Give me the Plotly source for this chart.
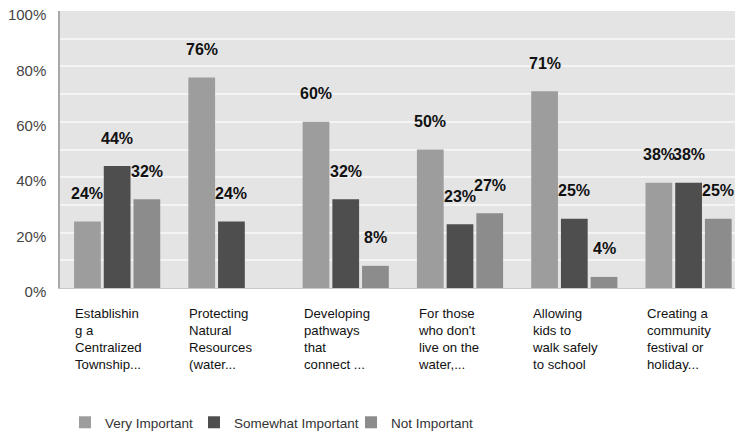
import plotly.graph_objects as go

categories = [
    "Establishin<br>g a<br>Centralized<br>Township...",
    "Protecting<br>Natural<br>Resources<br>(water...",
    "Developing<br>pathways<br>that<br>connect ...",
    "For those<br>who don't<br>live on the<br>water,...",
    "Allowing<br>kids to<br>walk safely<br>to school",
    "Creating a<br>community<br>festival or<br>holiday...",
]
series_names = ["Very Important", "Somewhat Important", "Not Important"]
very_important = [24, 76, 60, 50, 71, 38]
somewhat_important = [44, 24, 32, 23, 25, 38]
not_important = [32, None, 8, 27, 4, 25]
y_ticks = [0, 20, 40, 60, 80, 100]
y_tick_labels = ["0%", "20%", "40%", "60%", "80%", "100%"]

colors = ["#9d9d9d", "#4e4e4e", "#8c8c8c"]
series_values = [very_important, somewhat_important, not_important]
legend_ids = ["legend", "legend2", "legend3"]
legend_text_x = [101, 230, 387]

FONT = "Arial, Liberation Sans, sans-serif"

fig = go.Figure()
for name, vals, col, lg in zip(series_names, series_values, colors, legend_ids):
    fig.add_trace(go.Bar(
        x=categories, y=vals, name=name, legend=lg,
        marker=dict(color=col, line=dict(width=0)),
        hoverinfo="skip",
    ))

W, H = 735, 436
ml, mt, mb = 60, 11, 148
x_range = [-0.5, 5.406]
plot_w = W - ml
cat_px = plot_w / (x_range[1] - x_range[0])
bargap = 0.22
slot = cat_px * (1 - bargap) / 3
offsets = [-slot, 0, slot]

annotations = []
for vals, off in zip(series_values, offsets):
    for c, v in zip(categories, vals):
        if v is None:
            continue
        annotations.append(dict(
            x=c, y=v, xref="x", yref="y", text=f"<b>{v}%</b>",
            showarrow=False, xshift=off, yshift=28, yanchor="middle",
            font=dict(family=FONT, size=16, color="#111111"),
        ))
for c in categories:
    annotations.append(dict(
        x=c, y=0, xref="x", yref="paper", text=c, showarrow=False,
        xanchor="left", yanchor="top", align="left", xshift=-44, yshift=-16,
        font=dict(family=FONT, size=13.2, color="#111111"),
    ))

legend_common = dict(
    orientation="h", xref="container", yref="container",
    xanchor="left", yanchor="top", y=1 - 407 / H,
    font=dict(family=FONT, size=13.5, color="#333333"),
    bgcolor="rgba(0,0,0,0)",
)

fig.update_layout(
    width=W, height=H,
    margin=dict(l=ml, r=0, t=mt, b=mb, pad=0, autoexpand=False),
    paper_bgcolor="white",
    plot_bgcolor="#e4e4e4",
    barmode="group", bargap=bargap, bargroupgap=0.1,
    font=dict(family=FONT, size=13, color="#333333"),
    showlegend=True,
    legend=dict(legend_common, x=(legend_text_x[0] - 36) / W),
    legend2=dict(legend_common, x=(legend_text_x[1] - 36) / W),
    legend3=dict(legend_common, x=(legend_text_x[2] - 36) / W),
    xaxis=dict(
        range=x_range, showticklabels=False, showgrid=False, automargin=False,
        showline=True, linecolor="#c8c8c8", linewidth=1, zeroline=False,
        fixedrange=True,
    ),
    yaxis=dict(
        range=[0, 100], tickvals=y_ticks, ticktext=y_tick_labels, automargin=False,
        showgrid=True, gridcolor="#f4f4f4", gridwidth=1.5,
        minor=dict(dtick=10, showgrid=True, gridcolor="#f4f4f4", gridwidth=1.5),
        showline=True, linecolor="#a8a8a8", linewidth=1.5, zeroline=False,
        ticklabelstandoff=9, ticklabelshift=4, ticklabeloverflow="allow",
        tickfont=dict(family=FONT, size=15, color="#444444"),
        fixedrange=True,
    ),
    annotations=annotations,
)

fig.write_html(
    "out.html",
    config={"displayModeBar": False},
    post_script="document.body.style.margin='0';document.body.style.overflow='hidden';",
)
